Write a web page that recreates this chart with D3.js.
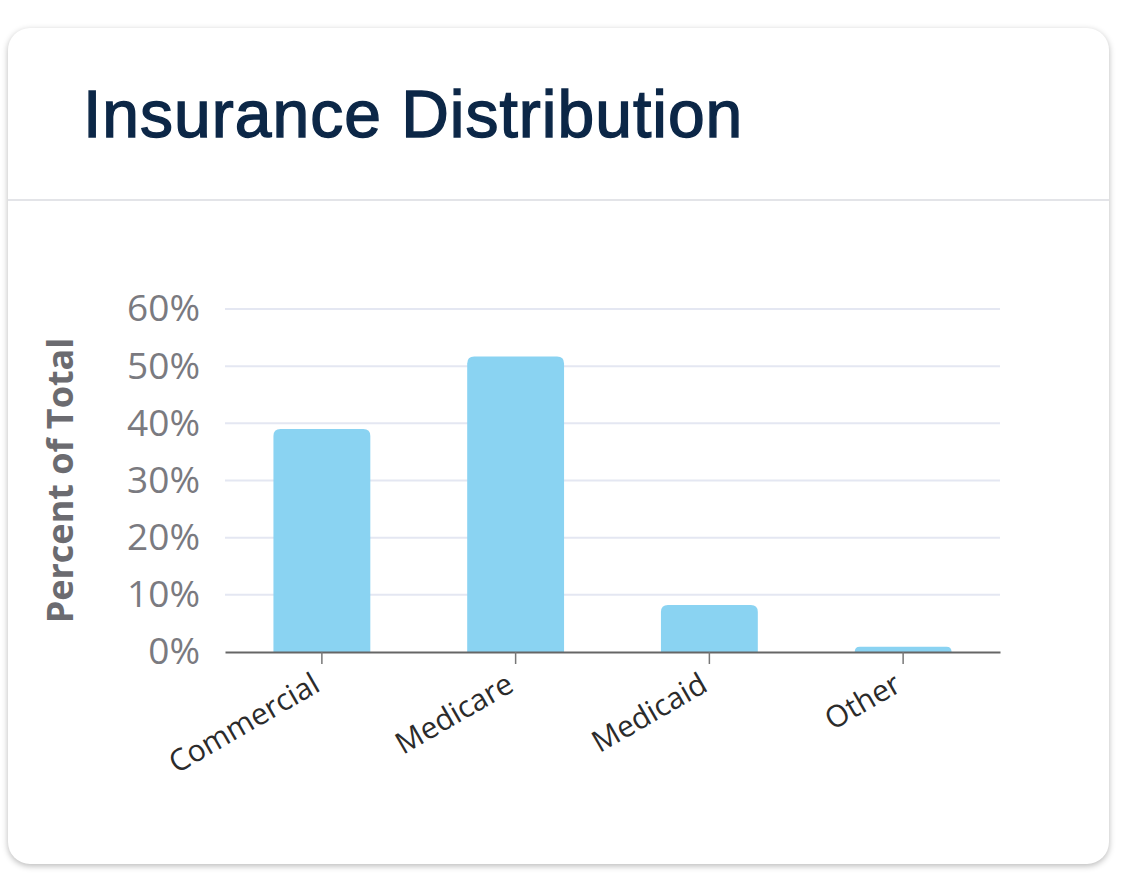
<!DOCTYPE html>
<html lang="en">
<head>
<meta charset="UTF-8">
<title>Insurance Distribution</title>
<style>
  body { margin: 0; background: #ffffff; width: 1127px; height: 880px; overflow: hidden; }
  .card {
    position: absolute; left: 8px; top: 28px; width: 1101px; height: 836px;
    background: #fff; border-radius: 22px;
    box-shadow: 0 2px 6px rgba(0,0,0,0.28);
  }
  .divider { position: absolute; left: 0; right: 0; top: 171px; border-top: 2px solid #e3e4e8; }
  svg { position: absolute; left: 0; top: 0; }
</style>
</head>
<body>
<div class="card">
  <div class="divider"></div>
</div>
<svg id="chart" width="1127" height="880"></svg>
<script src="https://d3js.org/d3.v7.min.js"></script>
<script>
// chart data
const title = "Insurance Distribution";
const categories = ["Commercial", "Medicare", "Medicaid", "Other"];
const percents = [39.0, 51.7, 8.2, 0.9];
const yTicks = [0, 10, 20, 30, 40, 50, 60];

const margin = { left: 225, right: 127, top: 309, bottom: 228 };
const width = 1127, height = 880;
const svg = d3.select("#chart");

// title
svg.append("text")
  .attr("x", 83)
  .attr("y", 137)
  .attr("font-family", "'Liberation Sans', Arial, sans-serif")
  .attr("font-size", 66)
  .attr("letter-spacing", "1px")
  .attr("fill", "#0c2747")
  .attr("stroke", "#0c2747")
  .attr("stroke-width", 1.4)
  .text(title);

const x = d3.scaleBand()
  .domain(categories)
  .range([margin.left, width - margin.right])
  .paddingInner(0.5)
  .paddingOuter(0.25);

const y = d3.scaleLinear()
  .domain([0, 60])
  .range([height - margin.bottom, margin.top]);

// gridlines
svg.append("g")
  .selectAll("line")
  .data(yTicks.slice(1))
  .join("line")
  .attr("x1", margin.left)
  .attr("x2", width - margin.right)
  .attr("y1", d => y(d))
  .attr("y2", d => y(d))
  .attr("stroke", "#e4e7f2")
  .attr("stroke-width", 2);

// y axis labels
const yAxis = svg.append("g")
  .attr("transform", `translate(${margin.left},0)`)
  .call(d3.axisLeft(y).tickValues(yTicks).tickFormat(d => d + "%").tickSize(0).tickPadding(25));
yAxis.select(".domain").remove();
yAxis.selectAll("text")
  .attr("font-family", "'Open Sans', sans-serif")
  .attr("font-size", 37)
  .attr("fill", "#7a7a80");

// y title
svg.append("text")
  .attr("transform", `translate(73,${(y(0) + y(60)) / 2}) rotate(-90)`)
  .attr("text-anchor", "middle")
  .attr("font-family", "'Open Sans', sans-serif")
  .attr("font-weight", 700)
  .attr("font-size", 36)
  .attr("fill", "#6b6b70")
  .text("Percent of Total");

// bars with rounded top corners
const r = 7;
function barPath(d, i) {
  const x0 = x(categories[i]), w = x.bandwidth();
  const y0 = y(d), y1 = y(0);
  const rr = Math.min(r, (y1 - y0));
  return `M${x0},${y1} L${x0},${y0 + rr} Q${x0},${y0} ${x0 + rr},${y0}
    L${x0 + w - rr},${y0} Q${x0 + w},${y0} ${x0 + w},${y0 + rr} L${x0 + w},${y1} Z`;
}
svg.append("g")
  .selectAll("path")
  .data(percents)
  .join("path")
  .attr("d", barPath)
  .attr("fill", "#8ad3f2");

// x axis
const xAxis = svg.append("g")
  .attr("transform", `translate(0,${y(0)})`)
  .call(d3.axisBottom(x).tickSizeInner(12).tickSizeOuter(0));
xAxis.select(".domain").attr("stroke", "#666").attr("stroke-width", 2);
xAxis.selectAll(".tick line").attr("stroke", "#777").attr("stroke-width", 1.5);
xAxis.selectAll("text")
  .attr("font-family", "'Open Sans', sans-serif")
  .attr("font-size", 30)
  .attr("fill", "#2b2b2b")
  .attr("text-anchor", "end")
  .attr("x", 0).attr("y", 0).attr("dy", 0)
  .attr("transform", "translate(0,38) rotate(-30)");
</script>
</body>
</html>
